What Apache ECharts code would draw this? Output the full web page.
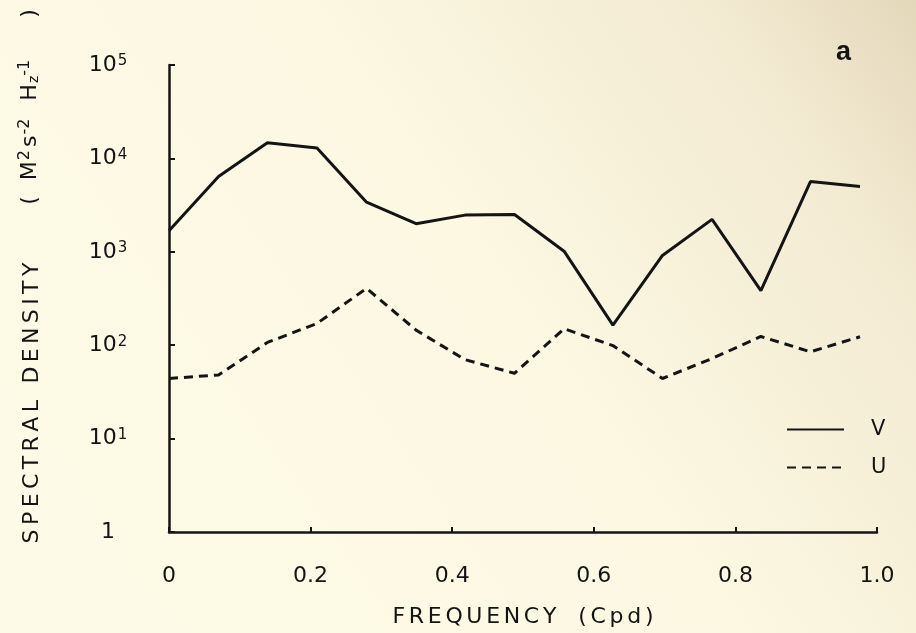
<!DOCTYPE html>
<html>
<head>
<meta charset="utf-8">
<script src="https://cdn.jsdelivr.net/npm/echarts@6/dist/echarts.min.js"></script>
<style>html,body{margin:0;padding:0;}#chart{width:916px;height:633px;}</style>
</head>
<body>
<div id="chart"></div>
<script>
// Frequencies (cycles per day) of the spectral estimates
const freq = [0, 0.070, 0.139, 0.209, 0.279, 0.349, 0.418, 0.488, 0.558, 0.627, 0.697, 0.767, 0.836, 0.906, 0.976];
// Spectral density, V component (solid line)
const vValues = [1680, 6400, 14700, 12900, 3400, 2000, 2470, 2510, 1015, 164, 914, 2225, 384, 5650, 5000];
// Spectral density, U component (dashed line)
const uValues = [44, 48, 107, 171, 406, 145, 70, 50, 150, 99, 44, 72, 124, 85, 123];
// Tick labels
const xTickLabels = ['0', '0.2', '0.4', '0.6', '0.8', '1.0'];
const yTickExponents = ['', '1', '2', '3', '4', '5'];
const seriesNames = ['V', 'U'];

const spaced = (s, sp) => s.split('').join(sp);

const chart = echarts.init(document.getElementById('chart'), null, {renderer: 'canvas'});
const ink = '#141414';
const font = 'DejaVu Sans';

const option = {
  backgroundColor: new echarts.graphic.LinearGradient(0, 1, 1, 0, [
    {offset: 0, color: '#fdfbe7'},
    {offset: 0.55, color: '#fcf8e2'},
    {offset: 0.85, color: '#f3ead2'},
    {offset: 1, color: '#e4d8bb'}
  ]),
  animation: false,
  title: {
    text: 'a', left: 831, top: 34,
    textStyle: {fontFamily: 'Liberation Sans', fontWeight: 'bold', fontSize: 27, color: ink}
  },
  grid: {left: 169, right: 39, top: 65, bottom: 94, containLabel: false},
  legend: {
    orient: 'vertical', left: 781, top: 414,
    itemWidth: 57, itemHeight: 14, itemGap: 17,
    itemStyle: {opacity: 0},
    textStyle: {fontFamily: font, fontSize: 21, color: ink, padding: [0, 0, 0, 22]},
    data: seriesNames
  },
  xAxis: {
    type: 'value', min: 0, max: 1, interval: 0.2,
    name: spaced('FREQUENCY', '\u2006') + '\u2002\u2002' + spaced('(Cpd)', '\u2006'),
    nameLocation: 'middle', nameGap: 74,
    nameTextStyle: {fontFamily: font, fontSize: 22, color: ink},
    axisLine: {lineStyle: {color: ink, width: 2.5}},
    axisTick: {inside: true, length: 5, lineStyle: {color: ink, width: 2}},
    axisLabel: {
      margin: 33, fontFamily: font, fontSize: 22, color: ink,
      formatter: v => xTickLabels[Math.round(v / 0.2)]
    },
    splitLine: {show: false}
  },
  yAxis: {
    type: 'log', logBase: 10, min: 1, max: 100000,
    axisLine: {lineStyle: {color: ink, width: 2.5}},
    axisTick: {inside: true, length: 6, lineStyle: {color: ink, width: 2}},
    axisLabel: {
      margin: 61, align: 'center', color: ink,
      formatter: v => {
        const e = Math.round(Math.log10(v));
        return e === 0 ? '{b|1}' : '{b|10}{s|' + yTickExponents[e] + '}';
      },
      rich: {
        b: {fontFamily: font, fontSize: 22, lineHeight: 22, verticalAlign: 'bottom', color: ink},
        s: {fontFamily: font, fontSize: 15, lineHeight: 15, verticalAlign: 'top', padding: [0, 0, 12, 1], color: ink}
      }
    },
    splitLine: {show: false}
  },
  graphic: [
    {
      type: 'text', x: 32, y: 403, rotation: Math.PI / 2,
      style: {
        text: spaced('SPECTRAL', '\u2009') + '\u2002\u2005' + spaced('DENSITY', '\u2009'),
        fontFamily: font, fontSize: 22, fill: ink, align: 'center', verticalAlign: 'middle'
      }
    },
    {
      type: 'text', x: 29, y: 107, rotation: Math.PI / 2,
      style: {
        text: '{p|(}{b|M}{s|2}{b|s}{s2|-2}{b|H}{sub|z}{s3|-1}{q|)}',
        align: 'center', verticalAlign: 'middle', fill: ink,
        rich: {
          p: {fontFamily: font, fontSize: 22, lineHeight: 24, verticalAlign: 'bottom', padding: [0, 16, 0, 0], fill: ink},
          q: {fontFamily: font, fontSize: 22, lineHeight: 24, verticalAlign: 'bottom', padding: [0, 0, 0, 42], fill: ink},
          b: {fontFamily: font, fontSize: 22, lineHeight: 24, verticalAlign: 'bottom', fill: ink},
          s: {fontFamily: font, fontSize: 16, lineHeight: 16, verticalAlign: 'top', padding: [0, 3, 14, 1], fill: ink},
          s2: {fontFamily: font, fontSize: 16, lineHeight: 16, verticalAlign: 'top', padding: [0, 18, 14, 1], fill: ink},
          s3: {fontFamily: font, fontSize: 16, lineHeight: 16, verticalAlign: 'top', padding: [0, 0, 14, 0], fill: ink},
          sub: {fontFamily: font, fontSize: 14, lineHeight: 14, verticalAlign: 'bottom', padding: [0, 0, 0, 1], fill: ink}
        }
      }
    }
  ],
  series: [
    {
      name: seriesNames[0], type: 'line', symbol: 'none',
      lineStyle: {color: ink, width: 3, type: 'solid'},
      itemStyle: {color: ink},
      data: freq.map((f, i) => [f, vValues[i]])
    },
    {
      name: seriesNames[1], type: 'line', symbol: 'none',
      lineStyle: {color: ink, width: 3, type: [9, 6]},
      itemStyle: {color: ink},
      data: freq.map((f, i) => [f, uValues[i]])
    }
  ]
};
chart.setOption(option);
</script>
</body>
</html>
